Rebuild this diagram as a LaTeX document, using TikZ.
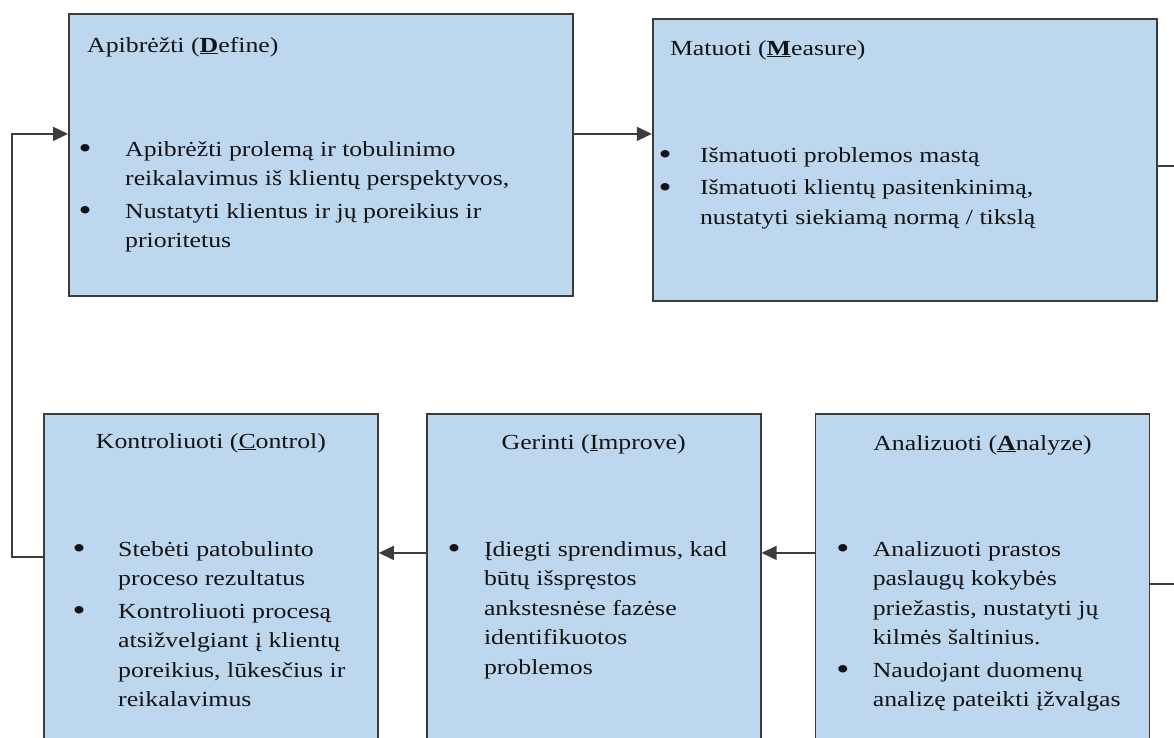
\documentclass[tikz,border=0pt]{standalone}
\usepackage{fontspec}
\setmainfont{Liberation Serif}[FakeStretch=1.2]
\usetikzlibrary{arrows.meta,positioning}
\definecolor{phasefill}{HTML}{BDD7EE}
\definecolor{edge}{HTML}{3C3C3C}
\definecolor{ink}{HTML}{141414}
\newcommand{\dmbul}{\raisebox{-2.5pt}{\fontsize{31}{0}\selectfont\textbullet}}

\begin{document}
\begin{tikzpicture}[x=1pt,y=-1pt,
  font=\fontsize{21.5}{29.5}\selectfont,
  phase/.style={draw=edge,fill=phasefill,line width=1.8pt,inner sep=0pt,anchor=north west},
  topbox/.style={phase,minimum width=504pt,minimum height=282pt},
  lowbox/.style={phase,minimum width=334pt,minimum height=344pt},
  ttl/.style={inner sep=0pt,text=ink},
  lst/.style={inner sep=0pt,anchor=base west,text=ink,align=left},
  ln/.style={line width=1.6pt,edge},
  ar/.style={ln,-{Triangle[length=15pt,width=14pt]}}]

\useasboundingbox (0,0) rectangle (1174,737);
\clip (0,0) rectangle (1174,737);

% top row
\node[topbox] (define) at (68,13) {};
\node[topbox,right=78pt of define,yshift=-5pt] (measure) {};

% bottom row
\node[lowbox] (control) at (43,413) {};
\node[lowbox,right=47pt of control] (improve) {};
\node[lowbox,right=53pt of improve] (analyze) {};

% titles
\node[ttl,anchor=base west] (defineT) at ([shift={(19pt,-39pt)}]define.north west) {Apibrėžti (\underline{\textbf{D}}efine)};
\node[ttl,anchor=base west] (measureT) at ([shift={(18pt,-37pt)}]measure.north west) {Matuoti (\underline{\textbf{M}}easure)};
\node[ttl,anchor=base] (controlT) at ([yshift=-35pt]control.north) {Kontroliuoti (\underline{C}ontrol)};
\node[ttl,anchor=base] (improveT) at ([yshift=-36pt]improve.north) {Gerinti (\underline{I}mprove)};
\node[ttl,anchor=base] (analyzeT) at ([yshift=-37pt]analyze.north) {Analizuoti (\underline{\textbf{A}}nalyze)};

% bullet lists
\node[lst] (defineL) at ([shift={(10.5pt,-143pt)}]define.north west)
  {\begin{tabular}[t]{@{}p{46.5pt}@{}l@{}}
   \dmbul & Apibrėžti prolemą ir tobulinimo\\
   & reikalavimus iš klientų perspektyvos,\\[3pt]
   \dmbul & Nustatyti klientus ir jų poreikius ir\\
   & prioritetus
   \end{tabular}};
\node[lst] (measureL) at ([shift={(6.5pt,-144pt)}]measure.north west)
  {\begin{tabular}[t]{@{}p{41.5pt}@{}l@{}}
   \dmbul & Išmatuoti problemos mastą\\[3pt]
   \dmbul & Išmatuoti klientų pasitenkinimą,\\
   & nustatyti siekiamą normą / tikslą
   \end{tabular}};
\node[lst] (controlL) at ([shift={(29.5pt,-143pt)}]control.north west)
  {\begin{tabular}[t]{@{}p{45.5pt}@{}l@{}}
   \dmbul & Stebėti patobulinto\\
   & proceso rezultatus\\[3pt]
   \dmbul & Kontroliuoti procesą\\
   & atsižvelgiant į klientų\\
   & poreikius, lūkesčius ir\\
   & reikalavimus
   \end{tabular}};
\node[lst] (improveL) at ([shift={(21.5pt,-143pt)}]improve.north west)
  {\begin{tabular}[t]{@{}p{36.5pt}@{}l@{}}
   \dmbul & Įdiegti sprendimus, kad\\
   & būtų išspręstos\\
   & ankstesnėse fazėse\\
   & identifikuotos\\
   & problemos
   \end{tabular}};
\node[lst] (analyzeL) at ([shift={(21.5pt,-143pt)}]analyze.north west)
  {\begin{tabular}[t]{@{}p{36.5pt}@{}l@{}}
   \dmbul & Analizuoti prastos\\
   & paslaugų kokybės\\
   & priežastis, nustatyti jų\\
   & kilmės šaltinius.\\[3pt]
   \dmbul & Naudojant duomenų\\
   & analizę pateikti įžvalgas
   \end{tabular}};

% connectors
\draw[ar] ([yshift=21pt]define.east) -- ([yshift=21pt]define.east -| measure.west);
\draw[ln] ([yshift=-6pt]measure.east) -- ++(40,0) |- ([yshift=2pt]analyze.east);
\draw[ar] ([yshift=33pt]analyze.west) -- ([yshift=33pt]analyze.west -| improve.east);
\draw[ar] ([yshift=33pt]improve.west) -- ([yshift=33pt]improve.west -| control.east);
\draw[ar] ([yshift=29pt]control.west) -- ++(-31,0) |- ([yshift=21pt]define.west);
\end{tikzpicture}
\end{document}
